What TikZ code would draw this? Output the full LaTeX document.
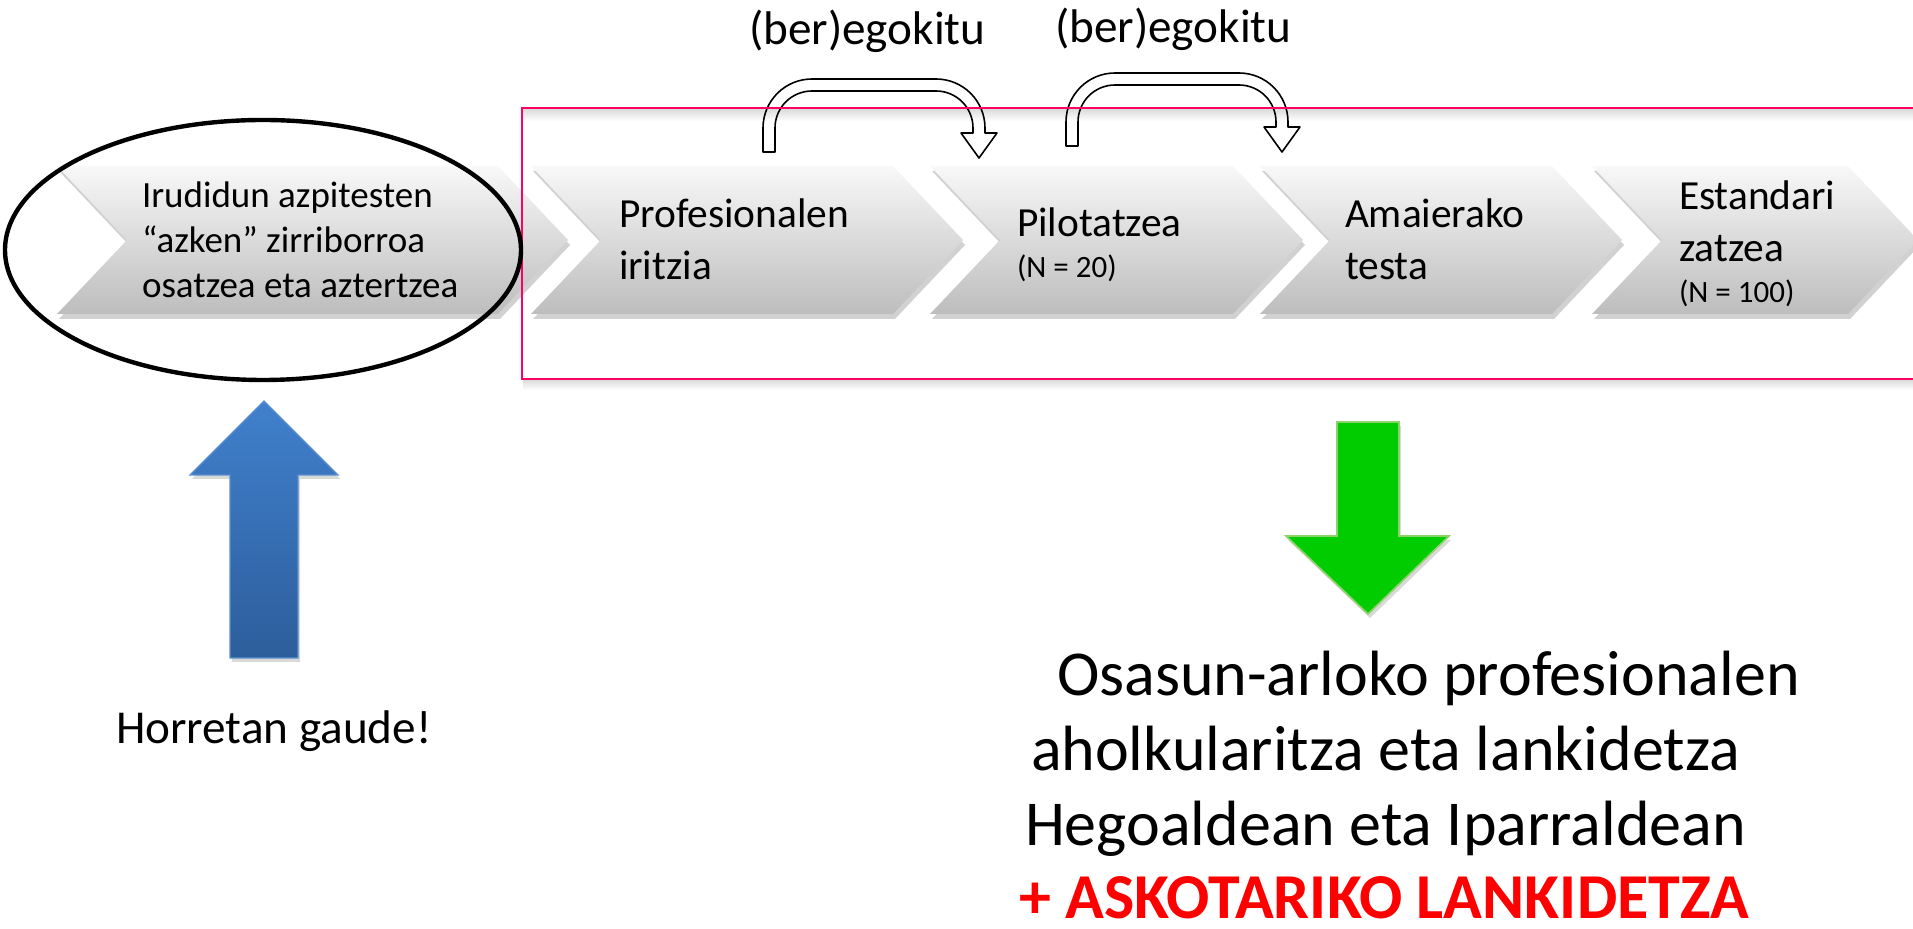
\documentclass[tikz,border=0pt]{standalone}
\usepackage{fontspec}
\setmainfont{Carlito}
\usetikzlibrary{shadows}
\definecolor{chevtop}{HTML}{F8F8F8}
\definecolor{chevbot}{HTML}{BDBDBD}
\definecolor{boxred}{HTML}{FF0066}
\definecolor{bluetop}{HTML}{4080CC}
\definecolor{bluebot}{HTML}{2D5E9C}
\definecolor{blueedge}{HTML}{5B8FD0}
\definecolor{greenfill}{HTML}{00CC00}
\definecolor{greenedge}{HTML}{8ED36A}
\definecolor{textred}{HTML}{FF0000}
\tikzset{
  chev/.style={top color=chevtop, bottom color=chevbot, draw=none,
    drop shadow={shadow xshift=1pt, shadow yshift=-2.5pt, opacity=0.3, fill=black!60}},
  uarr/.style={draw=black, line width=0.8pt, line join=round},
  txt/.style={anchor=base west, inner sep=0pt, outer sep=0pt},
  firsttxt/.style={txt, font=\fontsize{18.5}{22.5}\selectfont},
  steptxt/.style={txt, font=\fontsize{20.7}{26}\selectfont},
  smalltxt/.style={txt, font=\fontsize{15.5}{19}\selectfont},
  lbltxt/.style={txt, font=\fontsize{23.6}{28}\selectfont},
  bigtxt/.style={txt, font=\fontsize{32}{38}\selectfont},
  bigred/.style={txt, font=\fontsize{32}{38}\selectfont\bfseries, text=textred},
}
\newcommand\mychev[2]{\path[chev] (#1,-166) -- (#2,-166) -- (#2+70,-240) -- (#2,-314) -- (#1,-314) -- (#1+70,-240) -- cycle;}
\newcommand\myuarrow[2]{\begin{scope}[shift={(#1,#2)}]
  \draw[uarr] (0,0) -- (0,24) arc[start angle=180,end angle=90,radius=49] -- (173,73)
    arc[start angle=90,end angle=0,radius=49] -- (222,19) -- (234,19) -- (216,-6) -- (198,19)
    -- (210,19) -- (210,24) arc[start angle=0,end angle=90,radius=37] -- (49,61)
    arc[start angle=90,end angle=180,radius=37] -- (12,0) -- cycle;
  \end{scope}}
\begin{document}
\begin{tikzpicture}[x=0.5pt,y=0.5pt]
\useasboundingbox (0,0) rectangle (1913,-929);
\begin{scope}
\clip (0,0) rectangle (1913,-929);
% chevrons
\mychev{57}{498}
\mychev{531}{893}
\mychev{930}{1233}
\mychev{1260}{1552}
\mychev{1592}{1848}
% faint shadow of the red frame
\shade[top color=black!14, bottom color=white] (523,-109) rectangle (1913,-121);
\shade[top color=black!14, bottom color=white] (523,-380) rectangle (1913,-390);
% U-turn arrows
\myuarrow{763}{-152}
\myuarrow{1066}{-146}
% red frame
\draw[boxred, line width=0.9pt] (522,-108) rectangle (1940,-379);
% ellipse
\draw[black, line width=2.2pt] (263,-250) ellipse [x radius=258, y radius=130];
% blue arrow
\path[top color=bluetop, bottom color=bluebot, draw=blueedge, line width=0.6pt,
  drop shadow={shadow xshift=1pt, shadow yshift=-2pt, opacity=0.3}]
  (230,-658) -- (230,-475) -- (190,-475) -- (264,-401) -- (338,-475) -- (298,-475) -- (298,-658) -- cycle;
% green arrow
\path[fill=greenfill, draw=greenedge, line width=0.8pt,
  drop shadow={shadow xshift=1pt, shadow yshift=-2pt, opacity=0.3}]
  (1337,-422) -- (1399,-422) -- (1399,-536) -- (1449,-536) -- (1368,-614) -- (1286,-536) -- (1337,-536) -- cycle;
\end{scope}
% texts
\node[firsttxt] (s1) at (142,-208) {\begin{tabular}[t]{@{}l@{}}Irudidun azpitesten\\“azken” zirriborroa\\osatzea eta aztertzea\end{tabular}};
\node[steptxt] (s2) at (619,-228) {\begin{tabular}[t]{@{}l@{}}Profesionalen\\iritzia\end{tabular}};
\node[steptxt] (s3) at (1017,-237) {Pilotatzea};
\node[smalltxt] (s3n) at (1017,-278) {(N = 20)};
\node[steptxt] (s4) at (1345,-228) {\begin{tabular}[t]{@{}l@{}}Amaierako\\testa\end{tabular}};
\node[steptxt] (s5) at (1679,-210) {\begin{tabular}[t]{@{}l@{}}Estandari\\zatzea\end{tabular}};
\node[smalltxt] (s5n) at (1679,-303) {(N = 100)};
\node[lbltxt] (l1) at (749,-45) {(ber)egokitu};
\node[lbltxt] (l2) at (1055,-43) {(ber)egokitu};
\node[lbltxt] (here) at (116,-744) {Horretan gaude!};
\node[bigtxt] (o1) at (1057,-696) {Osasun-arloko profesionalen};
\node[bigtxt] (o2) at (1031,-771) {aholkularitza eta lankidetza};
\node[bigtxt] (o3) at (1025,-846) {Hegoaldean eta Iparraldean};
\node[bigred] (o4) at (1019,-919) {+ ASKOTARIKO LANKIDETZA};
\end{tikzpicture}
\end{document}
